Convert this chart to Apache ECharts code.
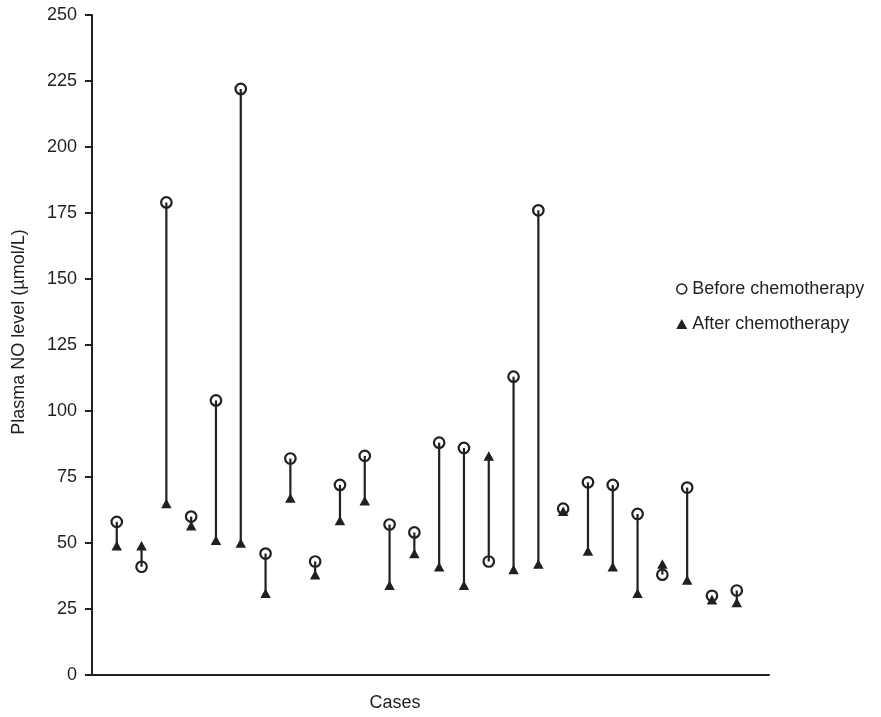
<!DOCTYPE html>
<html>
<head>
<meta charset="utf-8">
<script src="https://cdn.jsdelivr.net/npm/echarts@6/dist/echarts.min.js"></script>
<style>
html,body{margin:0;padding:0;background:#fff;}
#chart{width:881px;height:717px;}
</style>
</head>
<body>
<div id="chart"></div>
<script>
// ---- data ----
var cases = [1, 2, 3, 4, 5, 6, 7, 8, 9, 10, 11, 12, 13, 14, 15, 16, 17, 18, 19, 20, 21, 22, 23, 24, 25, 26];
var beforeChemo = [58, 41, 179, 60, 104, 222, 46, 82, 43, 72, 83, 57, 54, 88, 86, 43, 113, 176, 63, 73, 72, 61, 38, 71, 30, 32];
var afterChemo = [49, 49, 65, 56.5, 51, 50, 31, 67, 38, 58.5, 66, 34, 46, 41, 34, 83, 40, 42, 62, 47, 41, 31, 42, 36, 28.5, 27.5];
var yTicks = [0, 25, 50, 75, 100, 125, 150, 175, 200, 225, 250];
var seriesNames = ['Before chemotherapy', 'After chemotherapy'];
var xAxisTitle = 'Cases';
var yAxisTitle = 'Plasma NO level (\u00b5mol/L)';

// ---- chart ----
var ink = '#231f20';
var font = "'Liberation Sans', Arial, Helvetica, sans-serif";
var chart = echarts.init(document.getElementById('chart'), null, {renderer: 'canvas'});

var pairs = cases.map(function (c, i) { return [c, beforeChemo[i], afterChemo[i]]; });
var beforePts = cases.map(function (c, i) { return [c, beforeChemo[i]]; });
var afterPts = cases.map(function (c, i) { return [c, afterChemo[i]]; });

var option = {
  animation: false,
  backgroundColor: '#fff',
  grid: {left: 87, right: 112, top: 15, bottom: 42, containLabel: false},
  xAxis: {
    type: 'value',
    min: -0.2,
    max: 27.3,
    axisLine: {show: true, onZero: false, lineStyle: {color: ink, width: 2}},
    axisTick: {show: false},
    axisLabel: {show: false},
    splitLine: {show: false}
  },
  yAxis: {
    type: 'value',
    min: yTicks[0],
    max: yTicks[yTicks.length - 1],
    interval: 25,
    axisLine: {show: true, lineStyle: {color: ink, width: 2}},
    axisTick: {show: true, length: 7, lineStyle: {color: ink, width: 2}},
    axisLabel: {color: ink, fontSize: 18, fontFamily: font, margin: 10},
    splitLine: {show: false}
  },
  legend: {
    orient: 'vertical',
    left: 671,
    top: 275,
    itemWidth: 11,
    itemHeight: 10,
    itemGap: 17,
    selectedMode: false,
    textStyle: {color: ink, fontSize: 18, fontFamily: font, lineHeight: 18},
    data: [
      {name: seriesNames[0], icon: 'circle', itemStyle: {color: 'rgba(0,0,0,0)', borderColor: ink, borderWidth: 1.5}},
      {name: seriesNames[1], icon: 'triangle', itemStyle: {color: ink, borderWidth: 0}}
    ]
  },
  graphic: [
    {type: 'text', x: 395, y: 703, silent: true,
     style: {text: xAxisTitle, fill: ink, font: '18px ' + font, align: 'center', verticalAlign: 'middle'}},
    {type: 'text', x: 19, y: 332, rotation: Math.PI / 2, silent: true,
     style: {text: yAxisTitle, fill: ink, font: '18px ' + font, align: 'center', verticalAlign: 'middle'}}
  ],
  series: [
    {
      name: seriesNames[0],
      type: 'scatter',
      data: beforePts,
      symbol: 'circle',
      symbolSize: 10.5,
      z: 2,
      itemStyle: {color: 'rgba(0,0,0,0)', borderColor: ink, borderWidth: 2.2, opacity: 1}
    },
    {
      type: 'custom',
      data: pairs,
      z: 3,
      silent: true,
      encode: {x: 0, y: [1, 2]},
      renderItem: function (params, api) {
        var p1 = api.coord([api.value(0), api.value(1)]);
        var p2 = api.coord([api.value(0), api.value(2)]);
        return {
          type: 'line',
          shape: {x1: p1[0], y1: p1[1], x2: p2[0], y2: p2[1]},
          style: {stroke: ink, lineWidth: 2.2}
        };
      }
    },
    {
      name: seriesNames[1],
      type: 'scatter',
      data: afterPts,
      symbol: 'triangle',
      symbolSize: [10.5, 9.5],
      z: 4,
      itemStyle: {color: ink, opacity: 1}
    }
  ]
};
chart.setOption(option);
</script>
</body>
</html>
